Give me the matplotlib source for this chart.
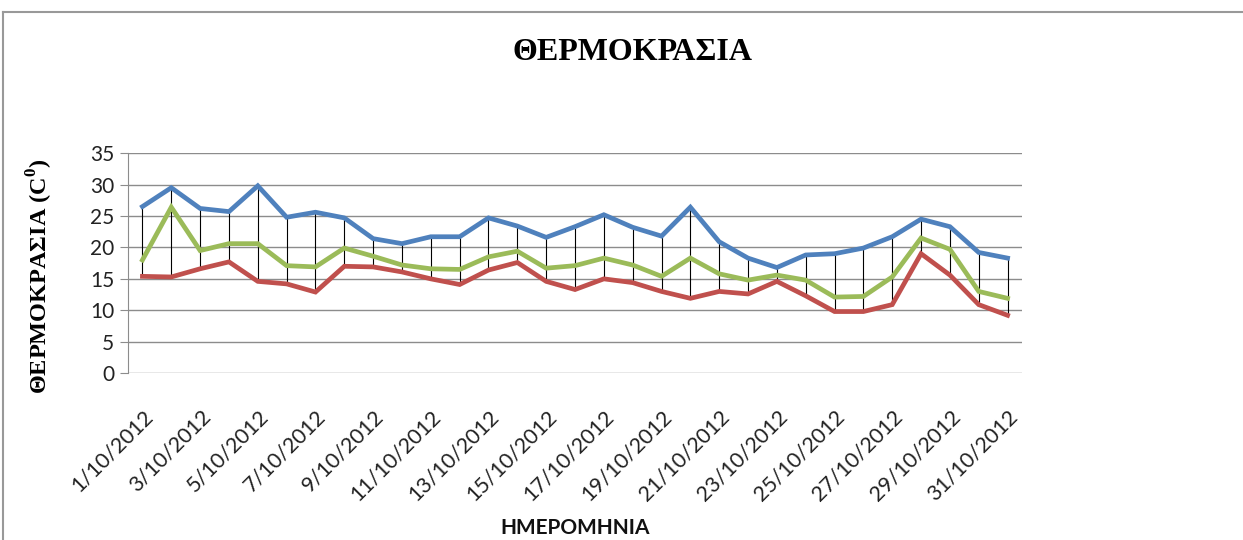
import numpy as np
import matplotlib.pyplot as plt
from matplotlib.lines import Line2D

# daily values, October 2012
days = [f'{d}/10/2012' for d in range(1, 32)]
t_max = [26.5, 29.5, 26.2, 25.7, 29.8, 24.8, 25.6, 24.7, 21.4, 20.6, 21.7,
         21.7, 24.7, 23.4, 21.6, 23.3, 25.2, 23.2, 21.8, 26.4, 20.9,
         18.3, 16.8, 18.8, 19.0, 19.9, 21.7, 24.5, 23.3, 19.2, 18.3]
t_mean = [18.0, 26.4, 19.5, 20.6, 20.6, 17.1, 16.9, 19.9, 18.6, 17.2, 16.6,
          16.5, 18.5, 19.4, 16.7, 17.1, 18.3, 17.2, 15.4, 18.3, 15.8,
          14.8, 15.6, 14.8, 12.1, 12.2, 15.3, 21.5, 19.7, 13.0, 11.9]
t_min = [15.4, 15.3, 16.6, 17.7, 14.6, 14.2, 12.9, 17.0, 16.9, 16.1, 15.0,
         14.1, 16.4, 17.6, 14.6, 13.3, 15.0, 14.4, 13.0, 11.9, 13.0,
         12.6, 14.6, 12.3, 9.8, 9.8, 10.9, 19.0, 15.6, 10.9, 9.2]
y_ticks = [0, 5, 10, 15, 20, 25, 30, 35]

fig = plt.figure(figsize=(12.43, 5.40), dpi=100)
ax = fig.add_axes([0.103, 0.309, 0.7192, 0.4074])

x = np.arange(len(days))

# high-low lines
ax.vlines(x, t_min, t_max, color='black', lw=0.8, zorder=2)

ax.plot(x, t_max, color='#4F81BD', lw=3.4, zorder=3, solid_joinstyle='miter')
ax.plot(x, t_mean, color='#9BBB59', lw=3.4, zorder=3, solid_joinstyle='miter')
ax.plot(x, t_min, color='#C0504D', lw=3.4, zorder=3, solid_joinstyle='miter')

ax.set_xlim(-0.5, len(days) - 0.5)
ax.set_ylim(0, 35)
ax.set_yticks(y_ticks)
ax.yaxis.grid(True, color='#8c8c8c', lw=1)
ax.set_axisbelow(True)

for s in ['top', 'right', 'bottom']:
    ax.spines[s].set_visible(False)
ax.spines['left'].set_color('#8c8c8c')
ax.tick_params(axis='y', length=6, color='#8c8c8c', labelsize=15, pad=4)
for lab in ax.get_yticklabels():
    lab.set_family('Lato')
    lab.set_color('#222222')

ax.set_xticks(x[::2])
ax.set_xticklabels(days[::2], rotation=45, ha='right', rotation_mode='anchor',
                   family='Lato', fontsize=15.5, color='#222222')
ax.tick_params(axis='x', length=0, pad=24)

fig.text(0.4626, 0.022, 'ΗΜΕΡΟΜΗΝΙΑ', family='Lato', fontweight='bold',
         fontsize=15, ha='center', va='center', color='#111111')
fig.text(40 / 1243, 0.489, r'ΘΕΡΜΟΚΡΑΣΙΑ (C$^{\mathregular{0}}$)', family='Liberation Serif',
         fontweight='bold', fontsize=17.5, rotation=90, ha='center', va='center')

fig.text(0.509, 0.903, 'ΘΕΡΜΟΚΡΑΣΙΑ', family='Liberation Serif', fontweight='bold',
         fontsize=23, ha='center', va='center')

# outer frame
fig.add_artist(Line2D([3 / 1243, 1], [1 - 12 / 540, 1 - 12 / 540], color='#999999', lw=1.5))
fig.add_artist(Line2D([3 / 1243, 3 / 1243], [0, 1 - 12 / 540], color='#999999', lw=1.5))

fig.savefig('out.png', dpi=100)
